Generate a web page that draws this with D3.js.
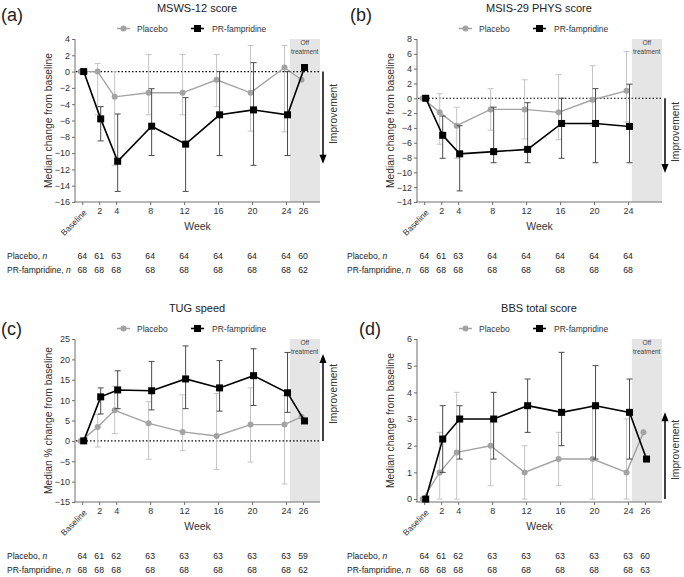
<!DOCTYPE html>
<html><head><meta charset="utf-8">
<script src="https://cdn.jsdelivr.net/npm/d3@7"></script>
<style>
body{margin:0;background:#fff;}
svg{display:block;font-family:"Liberation Sans",Arial,sans-serif;}
</style></head>
<body><svg id="c" width="684" height="577"></svg>
<script>
// ---------- DATA ----------
const weeks = [0, 2, 4, 8, 12, 16, 20, 24, 26];
const weeksB = [0, 2, 4, 8, 12, 16, 20, 24];
const weekTickLabels = ["Baseline", "2", "4", "8", "12", "16", "20", "24", "26"];

// (a) MSWS-12 score
const placeboA   = [0, 0, -3.1, -2.6, -2.6, -1.0, -2.6, 0.5, -1.0];
const placeboAlo = [null, -5.3, -11.5, -5.3, -5.3, -4.3, -7.3, -7.4, null];
const placeboAhi = [null, 1.0, 0, 2.1, 2.1, 2.1, 3.2, 3.2, null];
const famA       = [0, -5.8, -11.0, -6.7, -8.9, -5.3, -4.7, -5.3, 0.5];
const famAlo     = [null, -8.5, -14.7, -10.3, -14.7, -10.3, -11.5, -10.3, null];
const famAhi     = [null, -4.3, -5.2, -2.1, -3.2, 0, 1.1, 0, null];
const nPlaceboA  = [64, 61, 63, 64, 64, 64, 64, 64, 60];
const nFamA      = [68, 68, 68, 68, 68, 68, 68, 68, 62];

// (b) MSIS-29 PHYS score
const placeboB   = [0, -1.9, -3.7, -1.5, -1.5, -1.9, -0.2, 1.0];
const placeboBlo = [null, -6.2, -8.1, -4.3, -5.5, -5.6, -3.7, -3.2];
const placeboBhi = [null, 0.6, -1.2, 1.3, 2.5, 3.2, 4.4, 6.3];
const famB       = [0, -5.0, -7.5, -7.2, -6.9, -3.4, -3.4, -3.8];
const famBlo     = [null, -8.1, -12.5, -8.7, -8.7, -8.1, -8.7, -8.7];
const famBhi     = [null, -2.4, -3.7, -1.2, -0.6, 0, 1.3, 1.9];
const nPlaceboB  = [64, 61, 63, 64, 64, 64, 64, 64];
const nFamB      = [68, 68, 68, 68, 68, 68, 68, 68];

// (c) TUG speed
const placeboC   = [0, 3.4, 7.5, 4.3, 2.2, 1.2, 4.0, 4.0, 5.9];
const placeboClo = [null, -1.5, 1.8, -4.5, -2.4, -7.0, -5.2, -10.6, null];
const placeboChi = [null, 6.5, 13.4, 9.6, 11.3, 11.6, 13.0, 11.1, null];
const famC       = [0, 10.8, 12.5, 12.3, 15.2, 13.0, 16.0, 11.8, 4.9];
const famClo     = [null, 6.6, 7.9, 7.6, 7.9, 7.3, 8.7, 7.0, null];
const famChi     = [null, 13.0, 17.2, 19.5, 23.3, 19.7, 22.6, 21.7, null];
const nPlaceboC  = [64, 61, 62, 63, 63, 63, 63, 63, 59];
const nFamC      = [68, 68, 68, 68, 68, 68, 68, 68, 62];

// (d) BBS total score
const placeboD   = [0, 1.0, 1.75, 2.0, 1.0, 1.5, 1.5, 1.0, 2.5];
const placeboDlo = [null, 0, 0, 0.5, 0, 0.5, 0, 0, null];
const placeboDhi = [null, 2.5, 4.0, 3.0, 2.0, 2.5, 3.5, 3.0, null];
const famD       = [0, 2.25, 3.0, 3.0, 3.5, 3.25, 3.5, 3.25, 1.5];
const famDlo     = [null, 1.0, 1.5, 1.5, 2.5, 2.0, 1.5, 1.5, null];
const famDhi     = [null, 3.5, 3.5, 4.0, 4.5, 5.5, 5.0, 4.5, null];
const nPlaceboD  = [64, 61, 62, 63, 63, 63, 63, 63, 60];
const nFamD      = [68, 68, 68, 68, 68, 68, 68, 68, 63];

const seriesNames = ["Placebo", "PR-fampridine"];

// ---------- DRAW ----------
const svg = d3.select("#c");
const GREY = "#a3a3a3", GREY_ERR = "#c4c4c4", BLACK = "#000", BLACK_ERR = "#4a4a4a", AXIS = "#6e6e6e", TXT = "#333";

function panel(cfg) {
  const g = svg.append("g").attr("transform", `translate(${cfg.x0},${cfg.y0})`);
  const x = d3.scaleLinear().domain([-0.85, 28]).range([75, 320]);
  const y = d3.scaleLinear().domain(cfg.ydom).range([cfg.ybot, 39]);

  // off-treatment shading
  g.append("rect").attr("x", x(24.45)).attr("y", 39).attr("width", x(28) - x(24.45))
    .attr("height", cfg.ybot - 39).attr("fill", "#e5e5e5");
  g.append("text").attr("x", x(26.2)).attr("y", 45).attr("text-anchor", "middle")
    .attr("font-size", 6.5).attr("fill", "#444").text("Off");
  g.append("text").attr("x", x(26.2)).attr("y", 54).attr("text-anchor", "middle")
    .attr("font-size", 6.5).attr("fill", "#444").text("treatment");

  // y axis
  const ya = g.append("g").attr("transform", "translate(75,0)")
    .call(d3.axisLeft(y).tickValues(cfg.yticks).tickFormat(d3.format("d")).tickSize(3).tickPadding(2).tickSizeOuter(0));
  ya.select(".domain").attr("stroke", AXIS).attr("d", `M0,${cfg.ybot}V39`);
  ya.selectAll(".tick line").attr("stroke", AXIS);
  ya.selectAll("text").attr("font-size", 9).attr("fill", TXT).attr("font-family", "Liberation Sans, Arial");

  // x axis
  const wk = cfg.weeks;
  const xa = g.append("g").attr("transform", `translate(0,${cfg.ybot})`)
    .call(d3.axisBottom(x).tickValues(wk).tickSize(3).tickPadding(3)
      .tickFormat((d, i) => i === 0 ? "" : weekTickLabels[i]).tickSizeOuter(0));
  xa.select(".domain").attr("stroke", AXIS).attr("d", `M74,0H320`);
  xa.selectAll(".tick line").attr("stroke", AXIS);
  xa.selectAll("text").attr("font-size", 9).attr("fill", TXT).attr("font-family", "Liberation Sans, Arial");
  g.append("text").attr("transform", `translate(${x(0) + 1},${cfg.ybot + 7}) rotate(-45)`)
    .attr("text-anchor", "end").attr("dy", "0.7em").attr("font-size", 8.5).attr("fill", TXT).text(weekTickLabels[0]);
  g.append("text").attr("x", 197.5).attr("y", cfg.ybot + 28).attr("text-anchor", "middle")
    .attr("font-size", 10.5).attr("fill", TXT).text("Week");

  // zero dotted line
  if (cfg.zeroLine) {
    g.append("line").attr("x1", 76).attr("x2", 320).attr("y1", y(0)).attr("y2", y(0))
      .attr("stroke", "#000").attr("stroke-width", 1.1).attr("stroke-dasharray", "1.5,2");
  }

  // y label
  g.append("text").attr("transform", `translate(52,${(39 + cfg.ybot) / 2}) rotate(-90)`)
    .attr("text-anchor", "middle").attr("font-size", 10.3).attr("fill", TXT).text(cfg.ylabel);

  // title & letter
  g.append("text").attr("x", 197).attr("y", 12).attr("text-anchor", "middle")
    .attr("font-size", 11).attr("fill", "#222").text(cfg.title);
  g.append("text").attr("x", cfg.letterX).attr("y", cfg.letterY).attr("font-size", 18).attr("fill", "#222").text(cfg.letter);

  // legend
  const ly = 28.5;
  g.append("line").attr("x1", 117).attr("x2", 130).attr("y1", ly).attr("y2", ly).attr("stroke", GREY).attr("stroke-width", 1.5);
  g.append("circle").attr("cx", 123.5).attr("cy", ly).attr("r", 3).attr("fill", GREY);
  g.append("text").attr("x", 137).attr("y", ly + 3).attr("font-size", 8.5).attr("fill", TXT).text(seriesNames[0]);
  g.append("line").attr("x1", 191).attr("x2", 204).attr("y1", ly).attr("y2", ly).attr("stroke", BLACK).attr("stroke-width", 1.6);
  g.append("rect").attr("x", 194).attr("y", ly - 3.5).attr("width", 7).attr("height", 7).attr("fill", BLACK);
  g.append("text").attr("x", 212).attr("y", ly + 3).attr("font-size", 8.5).attr("fill", TXT).text(seriesNames[1]);

  // series
  function series(vals, lo, hi, dx, lineC, errC, lw, square) {
    const pts = wk.map((w, i) => ({ w, v: vals[i], lo: lo[i], hi: hi[i] }));
    const eb = g.append("g").attr("stroke", errC).attr("stroke-width", 1);
    pts.filter(p => p.lo !== null).forEach(p => {
      const cx = x(p.w) + dx;
      eb.append("line").attr("x1", cx).attr("x2", cx).attr("y1", y(p.lo)).attr("y2", y(p.hi));
      eb.append("line").attr("x1", cx - 3).attr("x2", cx + 3).attr("y1", y(p.lo)).attr("y2", y(p.lo));
      eb.append("line").attr("x1", cx - 3).attr("x2", cx + 3).attr("y1", y(p.hi)).attr("y2", y(p.hi));
    });
    g.append("path").datum(pts).attr("fill", "none").attr("stroke", lineC).attr("stroke-width", lw)
      .attr("d", d3.line().x(p => x(p.w) + dx).y(p => y(p.v)));
    if (square) {
      g.selectAll(null).data(pts).enter().append("rect")
        .attr("x", p => x(p.w) + dx - 3.5).attr("y", p => y(p.v) - 3.5).attr("width", 7).attr("height", 7).attr("fill", lineC);
    } else {
      g.selectAll(null).data(pts).enter().append("circle")
        .attr("cx", p => x(p.w) + dx).attr("cy", p => y(p.v)).attr("r", 3).attr("fill", lineC);
    }
  }
  series(cfg.pl, cfg.plLo, cfg.plHi, -1.5, GREY, GREY_ERR, 1.4, false);
  series(cfg.fa, cfg.faLo, cfg.faHi, 1.5, BLACK, BLACK_ERR, 1.6, true);

  // improvement arrow
  const a0 = y(0), a1 = y(cfg.arrowTo);
  const dir = a1 > a0 ? 1 : -1;
  g.append("line").attr("x1", 323).attr("x2", 323).attr("y1", a0).attr("y2", a1 - dir * 8)
    .attr("stroke", "#000").attr("stroke-width", 1.5);
  g.append("path").attr("d", `M319.5,${a1 - dir * 9}L326.5,${a1 - dir * 9}L323,${a1}Z`).attr("fill", "#000");
  g.append("text").attr("transform", `translate(337,${cfg.impY}) rotate(-90)`).attr("text-anchor", "middle")
    .attr("font-size", 10.3).attr("fill", TXT).text("Improvement");

  // n table
  const rows = [[seriesNames[0], cfg.nPl], [seriesNames[1], cfg.nFa]];
  rows.forEach((r, k) => {
    const ty = cfg.ybot + 57 + k * 14;
    const t = g.append("text").attr("x", cfg.nLabelX).attr("y", ty).attr("font-size", 8.5).attr("fill", "#222");
    t.append("tspan").text(r[0] + ", ");
    t.append("tspan").attr("font-style", "italic").text("n");
    g.selectAll(null).data(r[1]).enter().append("text")
      .attr("x", (d, i) => x(wk[i])).attr("y", ty).attr("text-anchor", "middle")
      .attr("font-size", 8.7).attr("fill", "#222").text(d => d);
  });
}

panel({ x0: 0, y0: 0, ydom: [-16, 4], ybot: 202, yticks: d3.range(-16, 5, 2), weeks: weeks, zeroLine: true,
  title: "MSWS-12 score", letter: "(a)", letterX: 1, letterY: 21, ylabel: "Median change from baseline",
  pl: placeboA, plLo: placeboAlo, plHi: placeboAhi, fa: famA, faLo: famAlo, faHi: famAhi,
  nPl: nPlaceboA, nFa: nFamA, arrowTo: -11.3, impY: 114, nLabelX: 7 });
panel({ x0: 342, y0: 0, ydom: [-14, 8], ybot: 202, yticks: d3.range(-14, 9, 2), weeks: weeksB, zeroLine: true,
  title: "MSIS-29 PHYS score", letter: "(b)", letterX: 8, letterY: 21, ylabel: "Median change from baseline",
  pl: placeboB, plLo: placeboBlo, plHi: placeboBhi, fa: famB, faLo: famBlo, faHi: famBhi,
  nPl: nPlaceboB, nFa: nFamB, arrowTo: -10.1, impY: 132, nLabelX: 5 });
panel({ x0: 0, y0: 300, ydom: [-15, 25], ybot: 202, yticks: d3.range(-15, 26, 5), weeks: weeks, zeroLine: true,
  title: "TUG speed", letter: "(c)", letterX: 1, letterY: 35, ylabel: "Median % change from baseline",
  pl: placeboC, plLo: placeboClo, plHi: placeboChi, fa: famC, faLo: famClo, faHi: famChi,
  nPl: nPlaceboC, nFa: nFamC, arrowTo: 21.3, impY: 94, nLabelX: 7 });
panel({ x0: 342, y0: 300, ydom: [-0.11, 6], ybot: 202, yticks: d3.range(0, 7, 1), weeks: weeks, zeroLine: false,
  title: "BBS total score", letter: "(d)", letterX: 17, letterY: 35, ylabel: "Median change from baseline",
  pl: placeboD, plLo: placeboDlo, plHi: placeboDhi, fa: famD, faLo: famDlo, faHi: famDhi,
  nPl: nPlaceboD, nFa: nFamD, arrowTo: 3.25, impY: 150, nLabelX: 5 });
</script>
</body></html>
